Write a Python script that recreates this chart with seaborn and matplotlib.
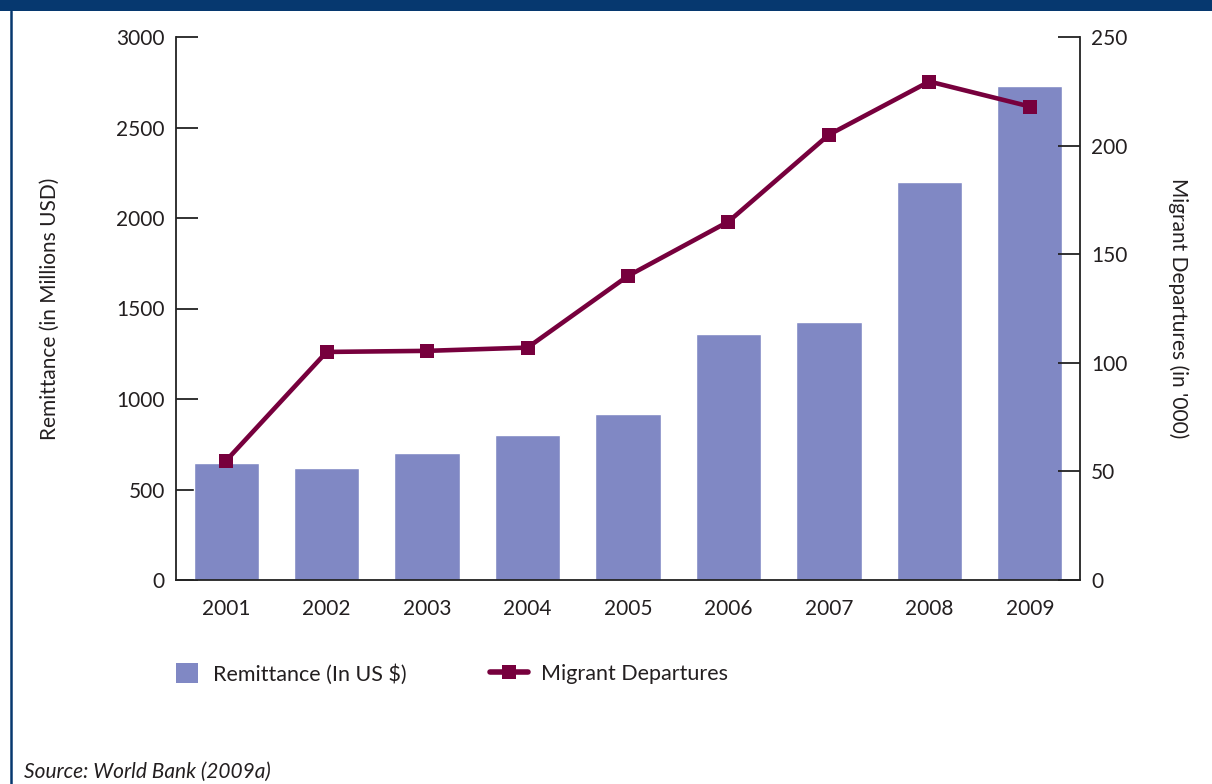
import numpy as np
import pandas as pd
import seaborn as sns
import matplotlib.pyplot as plt
from matplotlib.lines import Line2D
from matplotlib.patches import Patch, Rectangle

years = ["2001", "2002", "2003", "2004", "2005", "2006", "2007", "2008", "2009"]
remittance = [645, 620, 700, 800, 917, 1360, 1425, 2200, 2730]
departures = [55, 105, 105.5, 107, 140, 165, 205, 229.5, 218]
left_ticks = [0, 500, 1000, 1500, 2000, 2500, 3000]
right_ticks = [0, 50, 100, 150, 200, 250]

BAR = "#8088C4"
LINE = "#77003D"
NAVY = "#06386F"
TXT = "#231F20"

sns.set_theme(style="white")
plt.rcParams["font.family"] = ["Lato", "DejaVu Sans"]
plt.rcParams["text.color"] = TXT

W, H = 1212, 784
fig = plt.figure(figsize=(W / 100, H / 100), dpi=100)
fig.patch.set_facecolor("white")
ax = fig.add_axes([176 / W, 1 - 580 / H, (1080 - 176) / W, (580 - 37) / H])

df = pd.DataFrame({"year": years, "remit": remittance})
sns.barplot(data=df, x="year", y="remit", color=BAR, saturation=1, width=0.65, ax=ax)
ax.set_xlim(-0.5, len(years) - 0.5)
ax.set_ylim(0, 3000)
ax.set_yticks(left_ticks)
ax.set_xlabel("")
ax.set_ylabel("Remittance (in Millions USD)", fontsize=15, color=TXT, labelpad=41)

ax2 = ax.twinx()
sns.lineplot(x=np.arange(len(years)), y=departures, ax=ax2, color=LINE, lw=3.3,
             marker="s", markersize=10, markeredgewidth=0, markeredgecolor=LINE)
ax2.set_ylim(0, 250)
ax2.set_yticks(right_ticks)
ax2.set_ylabel("Migrant Departures (in '000)", fontsize=15, color=TXT, rotation=-90,
               labelpad=44)
ax2.set_xlim(-0.5, len(years) - 0.5)

for a in (ax, ax2):
    for s in a.spines.values():
        s.set_color("#222222")
        s.set_linewidth(1.3)
    a.spines["top"].set_visible(False)
    a.grid(False)
ax.spines["right"].set_visible(False)
ax2.spines["left"].set_visible(False)
ax2.spines["bottom"].set_visible(False)

ax.tick_params(axis="y", direction="in", length=16, width=1.3, color="#222222",
               labelsize=15, labelcolor=TXT, pad=8)
ax2.tick_params(axis="y", direction="in", length=16, width=1.3, color="#222222",
                labelsize=15, labelcolor=TXT, pad=8)
ax.set_xticks(np.arange(len(years)))
ax.set_xticklabels(years)
ax.set_xticks(np.arange(len(years) + 1) - 0.5, minor=True)
ax.tick_params(axis="x", which="major", length=0, labelsize=15, labelcolor=TXT, pad=14)
ax.tick_params(axis="x", which="minor", direction="out", length=10, width=1.3,
               color="#222222")

# Legends
leg1 = fig.legend(handles=[Patch(facecolor=BAR, edgecolor="none")],
                  labels=["Remittance (In US $)"], loc="center left",
                  bbox_to_anchor=(176 / W, 1 - 674 / H), frameon=False,
                  fontsize=15.5, handlelength=1.0, handleheight=1.0,
                  handletextpad=0.7, borderpad=0, borderaxespad=0)
leg2 = fig.legend(handles=[Line2D([], [], color=LINE, lw=4, marker="s", markersize=10,
                                  markeredgewidth=0)],
                  labels=["Migrant Departures"], loc="center left",
                  bbox_to_anchor=(490 / W, 1 - 674 / H), frameon=False,
                  fontsize=15.5, handlelength=1.75, handletextpad=0.6,
                  borderpad=0, borderaxespad=0)
for lg in (leg1, leg2):
    for t in lg.get_texts():
        t.set_color(TXT)

# Frame decorations
fig.patches.append(Rectangle((0, 1 - 11 / H), 1, 11 / H, transform=fig.transFigure,
                             facecolor=NAVY, edgecolor="none", zorder=5))
fig.add_artist(Line2D([10.5 / W, 10.5 / W], [0, 1 - 11 / H], transform=fig.transFigure,
                      color=NAVY, lw=1.8))

fig.text(24 / W, 1 - 772 / H, "Source: World Bank (2009a)", fontsize=15,
         style="italic", color=TXT, va="center", ha="left")

fig.savefig("out.png", dpi=100)
